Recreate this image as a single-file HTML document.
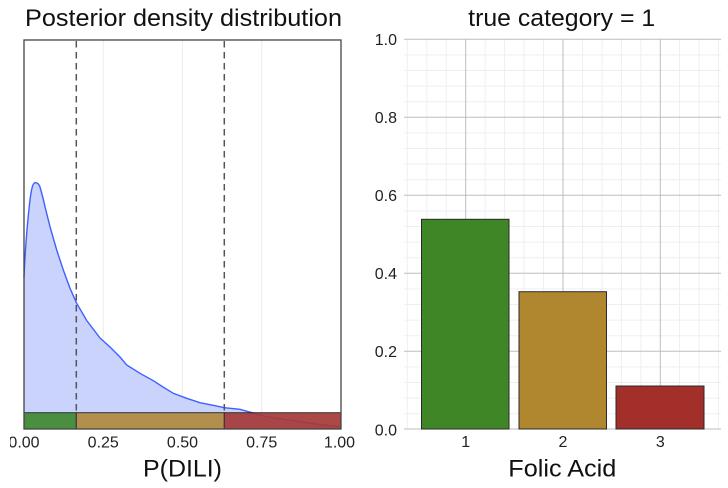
<!DOCTYPE html>
<html><head><meta charset="utf-8"><style>
html,body{margin:0;padding:0;background:#fff;}
svg{display:block;font-family:"Liberation Sans",Arial,sans-serif;}
</style></head><body>
<svg width="728" height="488" viewBox="0 0 728 488" xmlns="http://www.w3.org/2000/svg">
<defs>
<clipPath id="lc"><rect x="10" y="0" width="354" height="488"/></clipPath>
</defs>
<rect width="728" height="488" fill="#fff"/>
<!-- LEFT PANEL -->
<text x="183.5" y="26" font-size="24" text-anchor="middle" fill="#111" textLength="317" lengthAdjust="spacingAndGlyphs">Posterior density distribution</text>
<g stroke="#ececec" stroke-width="1">
<line x1="103.25" y1="40" x2="103.25" y2="429"/>
<line x1="182.5" y1="40" x2="182.5" y2="429"/>
<line x1="261.75" y1="40" x2="261.75" y2="429"/>
</g>
<path d="M24,277 C25,255 27,225 30,200 C31.5,188 33,183 35,182.7 C37.5,182.5 39,184 40,187 C42,194 44,202 45,206.7 L50,226.7 L56.7,250 L63.3,270 L70,288.3 L76.7,303.3 L86.7,320.5 L100,338 L110,347 L120,357 L126.7,365 L140,373.3 L153.3,380.7 L163,387 L173.3,393.3 L186.7,398.3 L200,402.7 L213.3,405.3 L224.3,407.7 L240,409.3 L248.3,411.7 L266.7,416.7 L293.3,420.7 L320,424.5 L340,426.7 L340,429 L24,429 Z" fill="#cad3fb" stroke="none"/>
<path d="M24,277 C25,255 27,225 30,200 C31.5,188 33,183 35,182.7 C37.5,182.5 39,184 40,187 C42,194 44,202 45,206.7 L50,226.7 L56.7,250 L63.3,270 L70,288.3 L76.7,303.3 L86.7,320.5 L100,338 L110,347 L120,357 L126.7,365 L140,373.3 L153.3,380.7 L163,387 L173.3,393.3 L186.7,398.3 L200,402.7 L213.3,405.3 L224.3,407.7 L240,409.3 L248.3,411.7 L266.7,416.7 L293.3,420.7 L320,424.5 L340,426.7" fill="none" stroke="#4060ff" stroke-width="1.4"/>
<g stroke="#555" stroke-width="1.5" stroke-dasharray="6.5,4.5">
<line x1="76.3" y1="41" x2="76.3" y2="413"/>
<line x1="224.3" y1="41" x2="224.3" y2="413"/>
</g>
<g stroke="#222" stroke-width="1" opacity="0.92">
<rect x="24" y="412.7" width="52.3" height="16.3" fill="#3f8a30"/>
<rect x="76.3" y="412.7" width="148" height="16.3" fill="#b18a3e"/>
<rect x="224.3" y="412.7" width="116.7" height="16.3" fill="#a63a38"/>
</g>
<rect x="24" y="40" width="317" height="389" fill="none" stroke="#444" stroke-width="1.3"/>
<g font-size="16" fill="#222" text-anchor="middle" clip-path="url(#lc)">
<text x="24" y="447.3">0.00</text>
<text x="103.25" y="447.3">0.25</text>
<text x="182.5" y="447.3">0.50</text>
<text x="261.75" y="447.3">0.75</text>
<text x="339.5" y="447.3">1.00</text>
</g>
<text x="182.5" y="476.7" font-size="24" text-anchor="middle" fill="#111" textLength="79" lengthAdjust="spacingAndGlyphs">P(DILI)</text>
<!-- RIGHT PANEL -->
<text x="561.7" y="26" font-size="24" text-anchor="middle" fill="#111" textLength="187" lengthAdjust="spacingAndGlyphs">true category = 1</text>
<g stroke="#efefef" stroke-width="1">
<line x1="407.3" y1="39.3" x2="407.3" y2="429"/>
<line x1="426.8" y1="39.3" x2="426.8" y2="429"/>
<line x1="446.2" y1="39.3" x2="446.2" y2="429"/>
<line x1="485.2" y1="39.3" x2="485.2" y2="429"/>
<line x1="504.6" y1="39.3" x2="504.6" y2="429"/>
<line x1="524.1" y1="39.3" x2="524.1" y2="429"/>
<line x1="543.5" y1="39.3" x2="543.5" y2="429"/>
<line x1="582.5" y1="39.3" x2="582.5" y2="429"/>
<line x1="602" y1="39.3" x2="602" y2="429"/>
<line x1="621.4" y1="39.3" x2="621.4" y2="429"/>
<line x1="640.8" y1="39.3" x2="640.8" y2="429"/>
<line x1="679.5" y1="39.3" x2="679.5" y2="429"/>
<line x1="699" y1="39.3" x2="699" y2="429"/>
<line x1="718.4" y1="39.3" x2="718.4" y2="429"/>
<line x1="404" y1="54.9" x2="721" y2="54.9"/>
<line x1="404" y1="70.5" x2="721" y2="70.5"/>
<line x1="404" y1="86.1" x2="721" y2="86.1"/>
<line x1="404" y1="101.7" x2="721" y2="101.7"/>
<line x1="404" y1="132.9" x2="721" y2="132.9"/>
<line x1="404" y1="148.5" x2="721" y2="148.5"/>
<line x1="404" y1="164.1" x2="721" y2="164.1"/>
<line x1="404" y1="179.7" x2="721" y2="179.7"/>
<line x1="404" y1="210.9" x2="721" y2="210.9"/>
<line x1="404" y1="226.5" x2="721" y2="226.5"/>
<line x1="404" y1="242.1" x2="721" y2="242.1"/>
<line x1="404" y1="257.7" x2="721" y2="257.7"/>
<line x1="404" y1="288.9" x2="721" y2="288.9"/>
<line x1="404" y1="304.5" x2="721" y2="304.5"/>
<line x1="404" y1="320.1" x2="721" y2="320.1"/>
<line x1="404" y1="335.7" x2="721" y2="335.7"/>
<line x1="404" y1="366.9" x2="721" y2="366.9"/>
<line x1="404" y1="382.5" x2="721" y2="382.5"/>
<line x1="404" y1="398.1" x2="721" y2="398.1"/>
<line x1="404" y1="413.7" x2="721" y2="413.7"/>
</g>
<g stroke="#bdbdbd" stroke-width="1">
<line x1="465.7" y1="39.3" x2="465.7" y2="429"/>
<line x1="563" y1="39.3" x2="563" y2="429"/>
<line x1="660.3" y1="39.3" x2="660.3" y2="429"/>
<line x1="404" y1="39.3" x2="721" y2="39.3"/>
<line x1="404" y1="117.3" x2="721" y2="117.3"/>
<line x1="404" y1="195.3" x2="721" y2="195.3"/>
<line x1="404" y1="273.3" x2="721" y2="273.3"/>
<line x1="404" y1="351.3" x2="721" y2="351.3"/>
<line x1="404" y1="429" x2="721" y2="429"/>
</g>
<g stroke="#2a2a2a" stroke-width="1">
<rect x="421.5" y="219.3" width="87.5" height="209.7" fill="#3e8626"/>
<rect x="519" y="291.7" width="87.5" height="137.3" fill="#b0862f"/>
<rect x="616" y="386" width="88" height="43" fill="#a32f2b"/>
</g>
<g font-size="16" fill="#222" text-anchor="end">
<text x="397" y="45">1.0</text>
<text x="397" y="123">0.8</text>
<text x="397" y="201">0.6</text>
<text x="397" y="279">0.4</text>
<text x="397" y="357">0.2</text>
<text x="397" y="435.5">0.0</text>
</g>
<g font-size="16" fill="#222" text-anchor="middle">
<text x="465.7" y="447">1</text>
<text x="563" y="447">2</text>
<text x="660.3" y="447">3</text>
</g>
<text x="562.3" y="476.7" font-size="24" text-anchor="middle" fill="#111" textLength="108" lengthAdjust="spacingAndGlyphs">Folic Acid</text>
</svg>
</body></html>
